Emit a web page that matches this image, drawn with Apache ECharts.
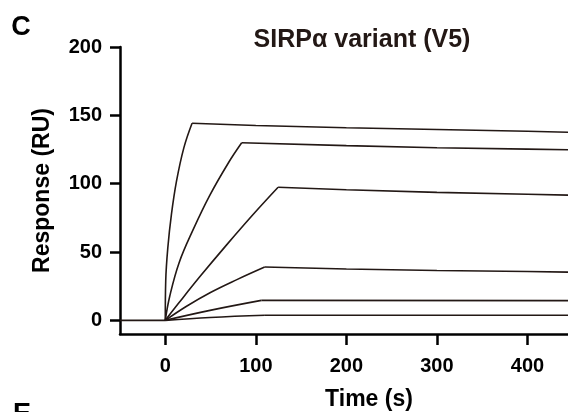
<!DOCTYPE html>
<html>
<head>
<meta charset="utf-8">
<script src="https://cdn.jsdelivr.net/npm/echarts@6/dist/echarts.min.js"></script>
<style>
html,body{margin:0;padding:0;background:#fff;}
#chart{width:568px;height:412px;}
</style>
</head>
<body>
<div id="chart"></div>
<script>
// ---- data ----
const xTicks = [0, 100, 200, 300, 400];
const yTicks = [0, 50, 100, 150, 200];

const baselineT = [-50, 0];
const baselineR = [0, 0];

const c1AssocT = [0, 0.5, 2.8, 6.8, 12.4, 20.5, 29.6];
const c1AssocR = [0, 29, 53, 77.5, 101.8, 126.2, 144.2];
const c1DissT  = [29.6, 100, 200, 300, 400, 445];
const c1DissR  = [144.2, 142.6, 140.9, 139.6, 138.3, 137.6];

const c2AssocT = [0, 5.0, 15.3, 30.9, 48.7, 69.8, 84.4];
const c2AssocR = [0, 17.8, 42.2, 66.5, 90.9, 115.3, 129.9];
const c2DissT  = [84.4, 200, 300, 400, 445];
const c2DissR  = [129.9, 127.8, 126.3, 125.3, 124.8];

const c3AssocT = [0, 15.3, 38.3, 68, 98.7, 124.6];
const c3AssocR = [0, 13.0, 32.0, 55.4, 78.7, 97.4];
const c3DissT  = [124.6, 200, 300, 400, 445];
const c3DissR  = [97.4, 95.6, 93.6, 92.3, 91.6];

const c4AssocT = [0, 23.5, 49.4, 79.1, 109.8];
const c4AssocR = [0, 10.3, 20.2, 29.8, 39.0];
const c4DissT  = [109.8, 200, 300, 400, 445];
const c4DissR  = [39.0, 37.6, 36.5, 35.7, 35.3];

const c5AssocT = [0, 49.4, 106.1];
const c5AssocR = [0, 7.3, 14.6];
const c5DissT  = [106.1, 445];
const c5DissR  = [14.6, 14.4];

const c6AssocT = [0, 49.4, 110];
const c6AssocR = [0, 2.1, 3.7];
const c6DissT  = [110, 445];
const c6DissR  = [3.7, 3.7];

// ---- build ----
const FONT = '"Liberation Sans", Arial, Helvetica, sans-serif';
const LINE = '#231815';
function zip(t, r) { return t.map((v, i) => [v, r[i]]); }
function seg(t, r, smooth) {
  return {
    type: 'line', data: zip(t, r), symbol: 'none',
    smooth: smooth ? 0.4 : false,
    lineStyle: { color: LINE, width: 1.6 }, silent: true, animation: false, z: 3
  };
}
const series = [
  seg(baselineT, baselineR, false),
  seg(c1AssocT, c1AssocR, true), seg(c1DissT, c1DissR, false),
  seg(c2AssocT, c2AssocR, true), seg(c2DissT, c2DissR, false),
  seg(c3AssocT, c3AssocR, true), seg(c3DissT, c3DissR, false),
  seg(c4AssocT, c4AssocR, true), seg(c4DissT, c4DissR, false),
  seg(c5AssocT, c5AssocR, true), seg(c5DissT, c5DissR, false),
  seg(c6AssocT, c6AssocR, true), seg(c6DissT, c6DissR, false)
];

const chart = echarts.init(document.getElementById('chart'), null, { renderer: 'canvas' });
chart.setOption({
  animation: false,
  backgroundColor: '#fff',
  grid: { left: 120, width: 498, top: 47, bottom: 78, containLabel: false, outerBoundsMode: 'none' },
  xAxis: {
    type: 'value', min: -50, max: 500,
    name: 'Time (s)', nameLocation: 'middle', nameGap: 54,
    nameTextStyle: { fontFamily: FONT, fontWeight: 'bold', fontSize: 23, color: '#000' },
    axisLine: { onZero: false, lineStyle: { color: '#000', width: 2.5 } },
    axisTick: { show: true, customValues: xTicks, length: 11, lineStyle: { color: '#000', width: 2.5 } },
    axisLabel: { customValues: xTicks, margin: 22, fontFamily: FONT, fontWeight: 'bold', fontSize: 20, color: '#000' },
    splitLine: { show: false }
  },
  yAxis: {
    type: 'value', min: -10, max: 200,
    name: 'Response (RU)', nameLocation: 'middle', nameGap: 66, nameRotate: 90,
    nameTextStyle: { fontFamily: FONT, fontWeight: 'bold', fontSize: 23, color: '#000' },
    axisLine: { onZero: false, lineStyle: { color: '#000', width: 2.5 } },
    axisTick: { show: true, customValues: yTicks, length: 10, lineStyle: { color: '#000', width: 2.5 } },
    axisLabel: { customValues: yTicks, margin: 18, fontFamily: FONT, fontWeight: 'bold', fontSize: 20, color: '#000' },
    splitLine: { show: false }
  },
  graphic: [
    { type: 'text', x: 362, y: 40, style: { text: 'SIRPα variant (V5)', font: 'bold 25px ' + FONT, fill: LINE, align: 'center', verticalAlign: 'middle' } },
    { type: 'text', x: 21, y: 28, style: { text: 'C', font: 'bold 27px ' + FONT, fill: '#000', align: 'center', verticalAlign: 'middle' } },
    { type: 'text', x: 22, y: 415, style: { text: 'E', font: 'bold 27px ' + FONT, fill: '#000', align: 'center', verticalAlign: 'middle' } }
  ],
  series: series
});
</script>
</body>
</html>
